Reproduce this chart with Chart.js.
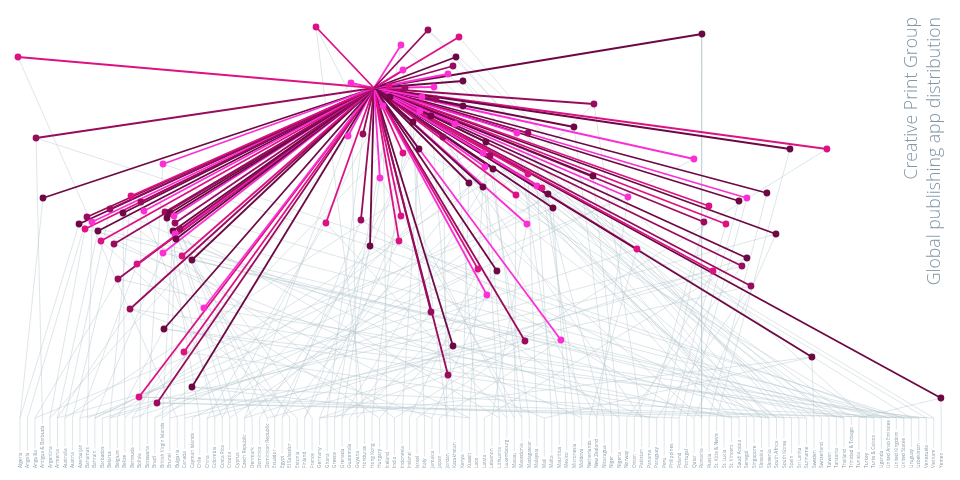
<!DOCTYPE html>
<html>
<head>
<meta charset="utf-8">
<title>Creative Print Group</title>
<script src="https://cdn.jsdelivr.net/npm/chart.js@4/dist/chart.umd.min.js"></script>
<style>
  html, body { margin: 0; padding: 0; background: #fff; }
  #wrap { width: 960px; height: 480px; position: relative; }
</style>
</head>
<body>
<div id="wrap"><canvas id="chart"></canvas></div>
<script>
// ── Data ─────────────────────────────────────────────────────────────────────
// x: country-slot units (0 = first country), y: height above the country row
const countries = [
  'Algeria','Angola','Anguilla','Antigua & Barbuda','Argentina','Armenia','Australia','Austria','Azerbaijan','Bahamas',
  'Bahrain','Barbados','Belarus','Belgium','Belize','Bermuda','Bolivia','Botswana','Brazil','British Virgin Islands',
  'Brunei','Bulgaria','Canada','Cayman Islands','Chile','China','Colombia','Costa Rica','Croatia','Cyprus',
  'Czech Republic','Denmark','Dominica','Dominican Republic','Ecuador','Egypt','El Salvador','Estonia','Finland','France',
  'Germany','Ghana','Greece','Grenada','Guatemala','Guyana','Honduras','Hong Kong','Hungary','Iceland',
  'India','Indonesia','Ireland','Israel','Italy','Jamaica','Japan','Jordan','Kazakhstan','Kenya',
  'Kuwait','Laos','Latvia','Lebanon','Lithuania','Luxembourg','Macau','Macedonia','Madagascar','Malaysia',
  'Mali','Malta','Mauritius','Mexico','Micronesia','Moldova','Netherlands','New Zealand','Nicaragua','Niger',
  'Nigeria','Norway','Oman','Pakistan','Panama','Paraguay','Peru','Philippines','Poland','Portugal',
  'Qatar','Romania','Russia','St. Kitts & Nevis','St. Lucia','St. Vincent','Saudi Arabia','Senegal','Singapore','Slovakia',
  'Slovenia','South Africa','South Korea','Spain','Sri Lanka','Suriname','Sweden','Switzerland','Taiwan','Tanzania',
  'Thailand','Trinidad & Tobago','Tunisia','Turkey','Turks & Caicos','Uganda','United Arab Emirates','United Kingdom','United States','Uruguay',
  'Uzbekistan','Venezuela','Vietnam','Yemen'
];

const hubX = 47.26;
const hubY = 330;

const dotX = [
  -0.27, 2.14, 19.09, 3.07, 14.82, 16.15, 12.02, 13.75, 16.55, 8.94,
  7.88, 9.61, 8.68, 10.41, 10.81, 12.55, 19.36, 19.62, 20.03, 20.56,
  20.69, 20.43, 21.36, 20.69, 20.83, 19.09, 21.63, 22.96, 15.62, 13.08,
  14.69, 19.22, 24.56, 21.89, 22.96, 15.89, 18.29, 39.52, 54.47, 58.61,
  50.86, 58.21, 57.81, 51.13, 57.14, 59.14, 44.19, 55.27, 49.26, 49.40,
  51.40, 53.67, 55.54, 59.14, 48.46, 53.40, 54.87, 52.47, 58.07, 76.63,
  73.96, 43.79, 45.79, 66.35, 67.82, 56.47, 62.21, 53.27, 51.13, 61.81,
  62.75, 62.08, 63.15, 67.82, 76.50, 48.06, 59.94, 61.81, 69.02, 69.69,
  70.49, 66.22, 81.17, 71.16, 91.05, 102.80, 107.73, 89.98, 99.72, 97.05,
  95.99, 91.98, 91.31, 94.25, 100.93, 97.05, 96.39, 92.52, 97.59, 105.73,
  122.95, 40.85, 45.52, 46.73, 50.86, 50.60, 67.68, 82.37, 61.14, 63.68,
  62.34, 54.87, 57.81, 57.14, 67.42, 72.22
];
const dotY = [
  361, 280, 254, 220, 222, 216, 209, 205, 207, 201,
  194, 196, 189, 187, 177, 174, 206, 200, 205, 202,
  195, 187, 189, 184, 179, 165, 162, 158, 154, 139,
  109, 89, 110, 66, 31, 21, 15, 391, 388, 381,
  373, 361, 352, 348, 344, 337, 335, 331, 332, 321,
  330, 321, 319, 312, 312, 307, 302, 296, 294, 314,
  291, 282, 284, 285, 285, 281, 276, 269, 265, 265,
  262, 251, 249, 244, 242, 240, 235, 231, 232, 230,
  224, 223, 221, 210, 384, 269, 269, 259, 225, 220,
  217, 212, 196, 194, 184, 160, 152, 147, 132, 61,
  20, 195, 198, 172, 202, 177, 194, 169, 149, 147,
  123, 106, 72, 43, 77, 78
];
// 0 = darkest ... 3 = brightest
const dotTier = [
  2, 1, 3, 0, 2, 1, 1, 0, 3, 1,
  0, 3, 2, 0, 2, 1, 1, 0, 0, 3,
  1, 0, 1, 3, 0, 3, 2, 0, 2, 1,
  1, 0, 3, 2, 0, 2, 1, 2, 1, 2,
  3, 0, 1, 3, 3, 0, 3, 3, 2, 0,
  1, 3, 1, 0, 3, 3, 0, 0, 3, 1,
  0, 3, 1, 3, 1, 1, 0, 0, 2, 3,
  1, 3, 0, 2, 0, 3, 0, 0, 3, 2,
  0, 2, 3, 0, 0, 0, 2, 3, 0, 3,
  0, 2, 1, 2, 0, 0, 1, 2, 1, 0,
  0, 2, 1, 0, 2, 2, 3, 2, 2, 0,
  3, 1, 0, 1, 1, 3
];

// [dot number (1-based), country index]
const links = [
  [4,0],[11,0],[10,1],[30,2],[2,3],[13,4],[14,5],[31,5],[7,6],[16,7],
  [29,8],[12,9],[36,10],[26,10],[37,11],[5,12],[32,13],[8,14],[33,15],[6,16],
  [3,17],[35,18],[22,19],[24,20],[1,21],[34,22],[88,23],[17,24],[102,25],[18,26],
  [9,27],[27,28],[19,29],[62,30],[20,31],[104,32],[28,33],[21,34],[103,35],[25,36],
  [15,37],[106,38],[23,39],[114,40],[105,40],[63,41],[113,42],[76,43],[112,44],[47,45],
  [38,46],[69,47],[111,48],[55,49],[87,50],[68,51],[109,52],[115,53],[58,54],[110,55],
  [116,56],[66,57],[57,58],[77,59],[78,60],[59,61],[96,62],[107,63],[70,64],[72,65],
  [82,66],[73,67],[67,68],[74,69],[100,70],[79,71],[64,72],[84,73],[81,74],[80,75],
  [108,76],[83,77],[65,78],[61,79],[75,80],[97,81],[98,82],[60,83],[92,84],[99,85],
  [93,86],[94,87],[91,88],[90,89],[95,90],[85,91],[89,92],[86,93],[71,94],[54,95],
  [46,96],[53,97],[52,98],[43,99],[42,100],[56,101],[40,102],[39,103],[45,104],[44,105],
  [100,106],[48,107],[41,108],[50,109],[49,110],[51,111],[101,112],[26,113],[31,114],[11,115],
  [5,116],[3,117],[2,118],[36,119],[37,120],[32,121],[35,122],[101,123],
  [16,70],[30,95],[14,60],[13,110],[34,85],[28,116],[32,100],[36,88],[37,105],[95,12],
  [96,30],[99,20],[100,40],[98,8],[97,25],[108,15],[116,33],[115,22],[113,110],[114,96],
  [111,5],[110,45],[109,18],[104,80],[102,65],[103,90],[106,100],[7,50],[8,75],[23,64],
  [25,84],[27,102],[22,118],[33,120],[35,60],[31,55],[29,48],[75,10],[84,2],[81,28],
  [79,119],[83,9],[61,12],[60,30],[74,122],[47,4],[62,16],[38,66],[39,113],[41,42],
  [44,57],[48,38],[52,77],[55,27],[56,99],[57,34],[58,14],[59,106],[66,83],[67,6],
  [68,114],[69,91],[70,26],[71,121],[72,35],[73,19],[76,67],[77,101],[78,43]
];

const titleText    = 'Creative Print Group';
const subtitleText = 'Global publishing app distribution';

// ── Styles ───────────────────────────────────────────────────────────────────
const tierColors = ['#6d0845', '#990b5c', '#dc1284', '#fb2fd4'];
const linkColor  = 'rgba(182,198,206,0.6)';
const textColor  = '#8297a6';

// ── Datasets ─────────────────────────────────────────────────────────────────
const datasets = [];

links.forEach(([d, c]) => {
  datasets.push({
    data: [{ x: dotX[d - 1], y: dotY[d - 1] }, { x: c, y: 0 }],
    showLine: true, borderColor: linkColor, borderWidth: 0.75,
    pointRadius: 0, order: 3
  });
});

dotX.forEach((x, i) => {
  datasets.push({
    data: [{ x: hubX, y: hubY }, { x: x, y: dotY[i] }],
    showLine: true, borderColor: tierColors[dotTier[i]], borderWidth: 1.8,
    pointRadius: 0, order: 2
  });
});

datasets.push({
  data: dotX.map((x, i) => ({ x: x, y: dotY[i] })),
  backgroundColor: dotTier.map(t => tierColors[t]),
  borderWidth: 0, pointRadius: 3.4, order: 1
});

// ── Country labels + titles ──────────────────────────────────────────────────
const labelPlugin = {
  id: 'countryLabels',
  afterDraw(chart) {
    const ctx = chart.ctx;
    const xs = chart.scales.x, ys = chart.scales.y;
    const floor = ys.getPixelForValue(0);
    const bottom = floor + 50;
    ctx.save();
    ctx.font = '4.8px "Open Sans", sans-serif';
    ctx.fillStyle = textColor;
    ctx.strokeStyle = linkColor;
    ctx.lineWidth = 0.75;
    countries.forEach((name, i) => {
      const x = xs.getPixelForValue(i);
      const w = ctx.measureText(name).width;
      ctx.beginPath();
      ctx.moveTo(x, floor);
      ctx.lineTo(x, bottom - w - 2);
      ctx.stroke();
      ctx.save();
      ctx.translate(x + 1.6, bottom);
      ctx.rotate(-Math.PI / 2);
      ctx.textAlign = 'left';
      ctx.textBaseline = 'alphabetic';
      ctx.fillText(name, 0, 0);
      ctx.restore();
    });

    ctx.font = '300 17.7px "Open Sans", sans-serif';
    ctx.fillStyle = textColor;
    [[titleText, 917], [subtitleText, 939.5]].forEach(([t, x]) => {
      ctx.save();
      ctx.translate(x, 17);
      ctx.rotate(-Math.PI / 2);
      ctx.textAlign = 'right';
      ctx.textBaseline = 'alphabetic';
      ctx.fillText(t, 0, 0);
      ctx.restore();
    });
    ctx.restore();
  }
};

new Chart(document.getElementById('chart'), {
  type: 'scatter',
  data: { datasets },
  options: {
    responsive: true,
    maintainAspectRatio: false,
    animation: false,
    layout: { padding: 0, autoPadding: false },
    plugins: { legend: { display: false }, tooltip: { enabled: false } },
    scales: {
      x: { type: 'linear', min: -2.67, max: 125.5, display: false },
      y: { type: 'linear', min: -62, max: 418, display: false }
    }
  },
  plugins: [labelPlugin]
});
</script>
</body>
</html>
